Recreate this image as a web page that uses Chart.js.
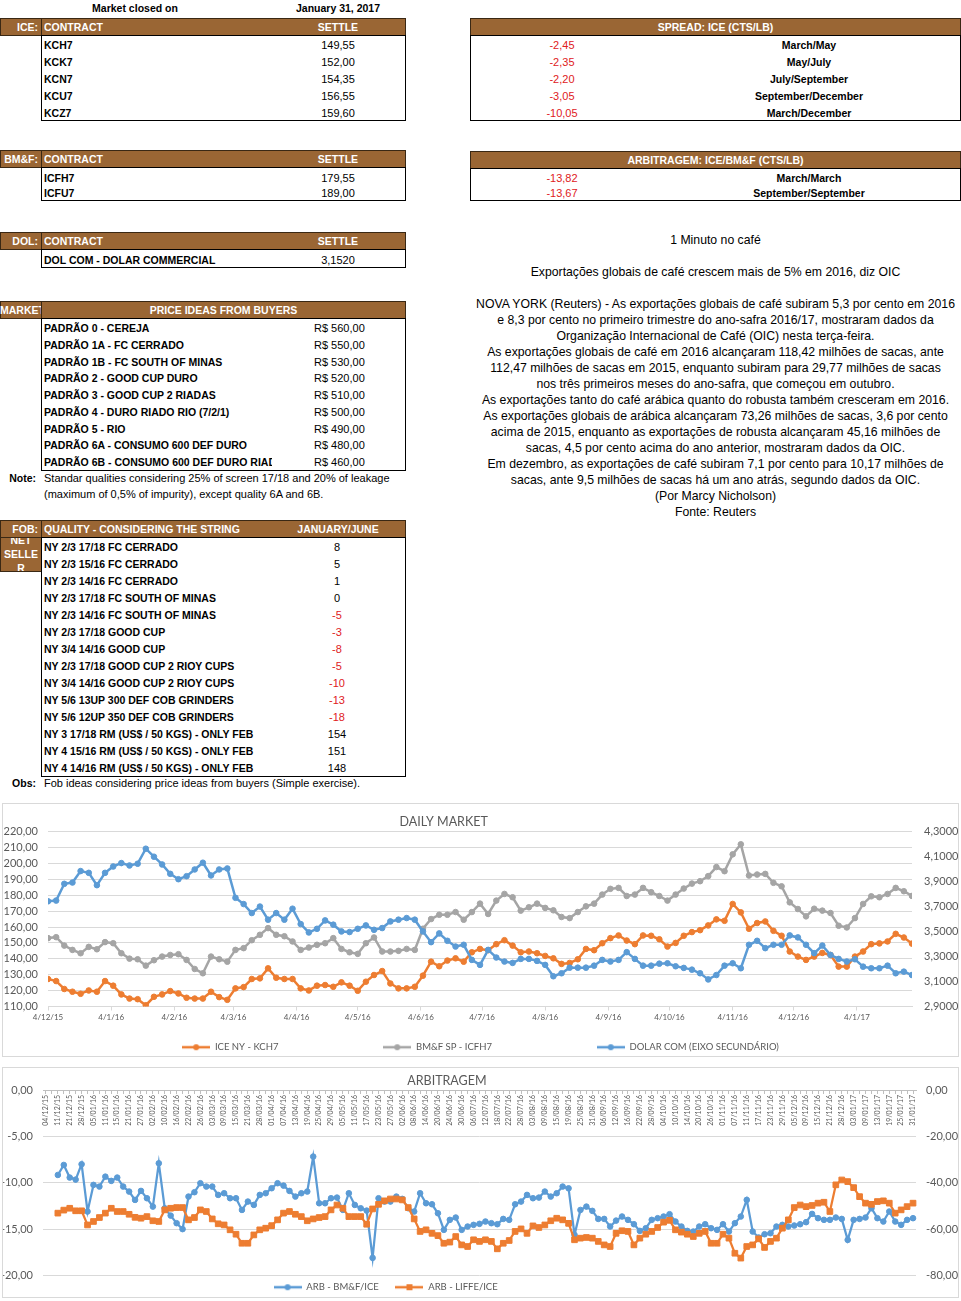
<!DOCTYPE html>
<html>
<head>
<meta charset="utf-8">
<script src="https://cdn.jsdelivr.net/npm/chart.js@4.4.0/dist/chart.umd.min.js"></script>
<style>
html, body { margin:0; padding:0; background:#fff; }
body { width:961px; height:1301px; overflow:hidden; position:relative; font-family:'Liberation Sans', Arial, sans-serif; }
#page { position:absolute; left:0; top:0; width:961px; height:1301px; }
.cell { position:absolute; height:16px; line-height:16px; font-size:11px; white-space:nowrap; overflow:hidden; color:#000; }
.b { font-weight:bold; font-size:10.5px; }
.c { text-align:center; }
.r { text-align:right; }
.w { color:#fff; }
.red { color:#e0201c; }
.news { font-size:12.25px; }
.hdr { position:absolute; background:#9a6634; border:1px solid #3a2814; box-sizing:border-box; overflow:hidden; }
.frame { position:absolute; border:1px solid #000; box-sizing:border-box; }
.sep { position:absolute; background:#3a2814; width:1px; }
.chartbox { position:absolute; border:1px solid #d9d9d9; box-sizing:border-box; }
canvas { position:absolute; }
</style>
</head>
<body>
<div id="page"></div>
<div class="chartbox" style="left:2px;top:803px;width:957px;height:254px"></div>
<canvas id="daily" width="955" height="258" style="left:3px;top:804px"></canvas>
<div class="chartbox" style="left:2px;top:1067px;width:957px;height:231px"></div>
<canvas id="arb" width="955" height="234" style="left:3px;top:1068px"></canvas>
<script>
// ---- table contents ----
var marketDate = 'January 31, 2017';
var iceContracts = ['KCH7', 'KCK7', 'KCN7', 'KCU7', 'KCZ7'];
var iceSettle = ['149,55', '152,00', '154,35', '156,55', '159,60'];
var spreadValues = ['-2,45', '-2,35', '-2,20', '-3,05', '-10,05'];
var spreadLabels = ['March/May', 'May/July', 'July/September', 'September/December', 'March/December'];
var bmfContracts = ['ICFH7', 'ICFU7'];
var bmfSettle = ['179,55', '189,00'];
var arbTableValues = ['-13,82', '-13,67'];
var arbTableLabels = ['March/March', 'September/September'];
var dolContracts = ['DOL COM - DOLAR COMMERCIAL'];
var dolSettle = ['3,1520'];
var priceQualities = ['PADRÃO 0 - CEREJA', 'PADRÃO 1A - FC CERRADO', 'PADRÃO 1B - FC SOUTH OF MINAS',
  'PADRÃO 2 - GOOD CUP DURO', 'PADRÃO 3 - GOOD CUP 2 RIADAS', 'PADRÃO 4 - DURO RIADO RIO (7/2/1)',
  'PADRÃO 5 - RIO', 'PADRÃO 6A - CONSUMO 600 DEF DURO', 'PADRÃO 6B - CONSUMO 600 DEF DURO RIADO'];
var priceValues = ['R$ 560,00', 'R$ 550,00', 'R$ 530,00', 'R$ 520,00', 'R$ 510,00', 'R$ 500,00',
  'R$ 490,00', 'R$ 480,00', 'R$ 460,00'];
var noteLines = ['Standar qualities considering 25% of screen 17/18 and 20% of leakage',
  '(maximum of 0,5% of impurity), except quality 6A and 6B.'];
var fobQualities = ['NY 2/3 17/18 FC CERRADO', 'NY 2/3 15/16 FC CERRADO', 'NY 2/3 14/16 FC CERRADO',
  'NY 2/3 17/18 FC SOUTH OF MINAS', 'NY 2/3 14/16 FC SOUTH OF MINAS', 'NY 2/3 17/18 GOOD CUP',
  'NY 3/4 14/16 GOOD CUP', 'NY 2/3 17/18 GOOD CUP 2 RIOY CUPS', 'NY 3/4 14/16 GOOD CUP 2 RIOY CUPS',
  'NY 5/6 13UP 300 DEF COB GRINDERS', 'NY 5/6 12UP 350 DEF COB GRINDERS',
  'NY 3 17/18 RM (US$ / 50 KGS) - ONLY FEB', 'NY 4 15/16 RM (US$ / 50 KGS) - ONLY FEB',
  'NY 4 14/16 RM (US$ / 50 KGS) - ONLY FEB'];
var fobValues = [8, 5, 1, 0, -5, -3, -8, -5, -10, -13, -18, 154, 151, 148];
var obsText = 'Fob ideas considering price ideas from buyers (Simple exercise).';
var newsTitle = '1 Minuto no café';
var newsHeadline = 'Exportações globais de café crescem mais de 5% em 2016, diz OIC';
var newsBody = [
  'NOVA YORK (Reuters) - As exportações globais de café subiram 5,3 por cento em 2016',
  'e 8,3 por cento no primeiro trimestre do ano-safra 2016/17, mostraram dados da',
  'Organização Internacional de Café (OIC) nesta terça-feira.',
  'As exportações globais de café em 2016 alcançaram 118,42 milhões de sacas, ante',
  '112,47 milhões de sacas em 2015, enquanto subiram para 29,77 milhões de sacas',
  'nos três primeiros meses do ano-safra, que começou em outubro.',
  'As exportações tanto do café arábica quanto do robusta também cresceram em 2016.',
  'As exportações globais de arábica alcançaram 73,26 milhões de sacas, 3,6 por cento',
  'acima de 2015, enquanto as exportações de robusta alcançaram 45,16 milhões de',
  'sacas, 4,5 por cento acima do ano anterior, mostraram dados da OIC.',
  'Em dezembro, as exportações de café subiram 7,1 por cento para 10,17 milhões de',
  'sacas, ante 9,5 milhões de sacas há um ano atrás, segundo dados da OIC.',
  '(Por Marcy Nicholson)',
  'Fonte: Reuters'];

// ---- DAILY MARKET: one value every 4 calendar days from 4/12/15 to 31/1/17 ----
var dailyStepDays = 4;
var dailyTickDays = [0, 31, 62, 91, 122, 152, 183, 213, 244, 275, 305, 336, 366, 397];
var dailyTickLabels = ['4/12/15', '4/1/16', '4/2/16', '4/3/16', '4/4/16', '4/5/16', '4/6/16',
  '4/7/16', '4/8/16', '4/9/16', '4/10/16', '4/11/16', '4/12/16', '4/1/17'];
var dolarTicks = [2.9, 3.1, 3.3, 3.5, 3.7, 3.9, 4.1, 4.3];
var iceNY = [
  127.3, 126.0, 121.0, 119.3, 118.0, 120.1, 119.3, 126.0, 123.1, 117.6,
  115.0, 114.6, 110.8, 116.1, 117.6, 119.7, 118.2, 115.5, 115.0, 115.0,
  119.3, 115.9, 114.2, 121.4, 122.2, 127.3, 127.7, 134.0, 128.1, 127.3,
  127.3, 121.4, 120.1, 123.1, 123.5, 122.4, 125.2, 123.1, 119.9, 125.6,
  129.8, 132.3, 124.5, 121.4, 121.4, 122.4, 129.4, 138.2, 135.3, 138.9,
  140.3, 138.2, 144.1, 146.2, 145.4, 149.2, 151.7, 148.3, 144.1, 144.6,
  143.5, 141.8, 140.3, 136.8, 137.4, 139.7, 146.2, 145.4, 149.8, 153.0,
  154.7, 151.5, 149.2, 154.7, 154.5, 152.3, 147.7, 150.0, 154.5, 156.8,
  158.0, 161.0, 164.8, 163.9, 174.5, 169.2, 158.9, 162.5, 163.5, 157.6,
  154.5, 144.6, 141.4, 139.3, 141.4, 143.7, 142.4, 135.1, 135.1, 141.4,
  144.6, 149.2, 149.7, 150.9, 155.7, 153.4, 149.55];
var bmfSP = [
  153.0, 153.6, 148.3, 145.6, 143.5, 147.5, 146.0, 150.5, 149.8, 143.5,
  140.1, 139.7, 135.7, 139.1, 141.4, 142.4, 142.9, 139.3, 133.6, 130.9,
  141.4, 139.7, 138.2, 145.6, 146.7, 151.7, 155.1, 159.3, 155.1, 154.2,
  150.9, 145.6, 147.1, 148.8, 149.8, 153.0, 146.2, 144.1, 143.1, 149.8,
  153.4, 144.6, 144.6, 145.0, 146.2, 145.6, 158.9, 165.0, 167.7, 167.7,
  169.4, 164.6, 169.4, 174.7, 168.2, 176.6, 180.8, 178.7, 170.3, 172.4,
  174.7, 172.0, 170.5, 166.3, 165.6, 169.4, 173.0, 174.7, 180.4, 184.0,
  184.6, 179.5, 180.4, 184.6, 181.9, 179.5, 176.6, 180.4, 184.2, 187.3,
  188.8, 192.0, 197.7, 195.1, 205.7, 212.0, 192.4, 193.0, 193.4, 187.8,
  185.6, 175.5, 171.3, 166.7, 171.5, 170.3, 168.8, 160.8, 159.7, 165.6,
  174.5, 179.3, 178.7, 180.8, 184.6, 182.5, 179.55];
var dolarCom = [
  3.742, 3.748, 3.882, 3.892, 3.984, 3.970, 3.871, 3.970, 4.021, 4.048,
  4.029, 4.043, 4.163, 4.099, 4.037, 3.962, 3.919, 3.943, 3.997, 4.051,
  3.949, 3.997, 4.005, 3.770, 3.720, 3.648, 3.700, 3.595, 3.648, 3.595,
  3.683, 3.560, 3.493, 3.522, 3.589, 3.555, 3.501, 3.496, 3.522, 3.549,
  3.514, 3.528, 3.581, 3.595, 3.608, 3.595, 3.501, 3.415, 3.485, 3.426,
  3.380, 3.394, 3.273, 3.233, 3.353, 3.292, 3.260, 3.249, 3.281, 3.281,
  3.265, 3.233, 3.142, 3.166, 3.211, 3.211, 3.211, 3.227, 3.273, 3.260,
  3.273, 3.335, 3.281, 3.227, 3.227, 3.243, 3.246, 3.222, 3.209, 3.195,
  3.166, 3.117, 3.152, 3.227, 3.246, 3.206, 3.394, 3.426, 3.367, 3.394,
  3.394, 3.469, 3.453, 3.394, 3.327, 3.388, 3.313, 3.281, 3.260, 3.278,
  3.219, 3.206, 3.206, 3.227, 3.166, 3.179, 3.152];

// ---- ARBITRAGEM: two points per labelled date, series start at 11/12/15 ----
var arbDateLabels = ['04/12/15', '11/12/15', '21/12/15', '28/12/15', '05/01/16', '11/01/16', '15/01/16',
  '21/01/16', '27/01/16', '02/02/16', '10/02/16', '16/02/16', '22/02/16', '26/02/16', '03/03/16',
  '09/03/16', '15/03/16', '21/03/16', '28/03/16', '01/04/16', '07/04/16', '13/04/16', '19/04/16',
  '25/04/16', '29/04/16', '05/05/16', '11/05/16', '17/05/16', '23/05/16', '27/05/16', '02/06/16',
  '08/06/16', '14/06/16', '20/06/16', '24/06/16', '30/06/16', '06/07/16', '12/07/16', '18/07/16',
  '22/07/16', '28/07/16', '03/08/16', '09/08/16', '15/08/16', '19/08/16', '25/08/16', '31/08/16',
  '06/09/16', '12/09/16', '16/09/16', '22/09/16', '28/09/16', '04/10/16', '10/10/16', '14/10/16',
  '20/10/16', '26/10/16', '01/11/16', '07/11/16', '11/11/16', '17/11/16', '23/11/16', '29/11/16',
  '05/12/16', '09/12/16', '15/12/16', '21/12/16', '28/12/16', '03/01/17', '09/01/17', '13/01/17',
  '19/01/17', '25/01/17', '31/01/17'];
var arbBmfIce = [
  -9.16, -8.08, -9.44, -9.66, -8.0, -13.1, -10.23, -10.41, -9.34, -9.8,
  -9.44, -10.41, -10.95, -11.85, -10.88, -11.67, -12.57, -7.9, -12.75, -13.54,
  -14.36, -15.0, -11.49, -11.02, -10.05, -10.41, -10.41, -11.31, -11.13, -11.67,
  -11.67, -12.93, -12.03, -12.39, -11.31, -11.13, -10.59, -10.05, -10.31, -10.88,
  -11.49, -11.13, -10.95, -7.18, -12.21, -12.21, -11.67, -11.6, -12.93, -11.13,
  -12.39, -12.75, -13.0, -18.1, -11.67, -12.03, -12.03, -11.49, -11.74, -12.75,
  -13.1, -11.13, -12.21, -12.32, -13.29, -15.08, -14.0, -13.75, -15.08, -14.72,
  -14.54, -14.43, -14.18, -14.36, -14.47, -13.9, -14.0, -12.32, -12.03, -11.31,
  -11.67, -11.6, -10.95, -11.49, -11.13, -10.41, -10.6, -15.62, -12.93, -12.57,
  -13.03, -13.9, -13.9, -14.72, -14.08, -13.64, -14.0, -14.47, -15.19, -14.9,
  -14.0, -13.82, -13.64, -13.39, -14.18, -14.72, -15.19, -15.26, -14.72, -14.47,
  -14.9, -15.08, -14.47, -15.26, -14.36, -13.64, -11.85, -15.26, -15.9, -15.55,
  -15.44, -14.72, -14.54, -14.72, -14.61, -14.47, -14.25, -13.36, -13.82, -14.0,
  -14.0, -13.75, -13.9, -16.16, -14.0, -13.9, -13.75, -12.75, -13.82, -14.18,
  -13.1, -14.18, -14.54, -14.0, -13.82];
var arbLiffeIce = [
  -53.1, -51.8, -51.0, -52.1, -52.1, -58.2, -56.7, -55.0, -53.1, -51.0,
  -52.4, -52.4, -53.6, -54.9, -55.3, -54.6, -56.4, -56.7, -51.7, -51.0,
  -50.7, -50.7, -56.0, -55.0, -51.7, -52.4, -55.6, -57.7, -58.2, -60.3,
  -62.2, -66.1, -66.1, -62.5, -60.3, -59.6, -58.5, -56.0, -53.1, -52.4,
  -53.6, -54.6, -56.4, -55.6, -55.0, -54.6, -51.7, -49.6, -51.0, -54.6,
  -54.6, -54.6, -57.9, -51.3, -49.3, -47.8, -47.0, -47.0, -47.4, -50.7,
  -55.6, -61.0, -60.3, -61.8, -62.8, -66.1, -65.6, -63.2, -66.8, -67.5,
  -64.6, -65.3, -64.6, -65.3, -68.5, -66.1, -64.9, -61.0, -59.9, -61.8,
  -58.6, -59.3, -58.2, -56.4, -55.3, -56.0, -57.5, -64.6, -63.9, -63.6,
  -63.9, -65.3, -66.8, -67.5, -61.8, -60.7, -61.0, -66.8, -63.9, -62.2,
  -61.0, -59.3, -57.0, -56.2, -60.3, -61.3, -62.2, -63.2, -61.8, -61.0,
  -66.1, -66.1, -62.2, -63.9, -70.4, -72.5, -67.5, -66.8, -64.2, -67.9,
  -65.3, -63.9, -59.6, -56.0, -50.7, -49.6, -50.3, -49.8, -48.8, -48.4,
  -52.4, -40.9, -38.8, -39.5, -42.1, -46.0, -48.8, -49.3, -48.1, -47.8,
  -48.8, -53.1, -51.7, -50.3, -48.8];

// ---- spreadsheet part ----
var page = document.getElementById('page');

function el(cls, x, y, w, h) {
  var d = document.createElement('div');
  d.className = cls;
  d.style.left = x + 'px';
  d.style.top = y + 'px';
  if (w != null) d.style.width = w + 'px';
  if (h != null) d.style.height = h + 'px';
  page.appendChild(d);
  return d;
}

function txt(x, cy, w, s, cls) {
  var d = el('cell ' + (cls || ''), x, cy - 8, w);
  d.textContent = s;
  return d;
}

function contractTable(tag, top, rowY, rowStep, bodyH, names, values) {
  el('hdr', 0, top, 406, 18);
  el('sep', 41, top, null, 18);
  txt(0, top + 9, 38, tag, 'b w r');
  txt(44, top + 9, 200, 'CONTRACT', 'b w');
  txt(288, top + 9, 100, 'SETTLE', 'b w c');
  el('frame', 41, top + 17, 365, bodyH);
  names.forEach(function (n, i) {
    txt(44, rowY + i * rowStep, 240, n, 'b');
    txt(288, rowY + i * rowStep, 100, values[i], 'c');
  });
}

function spreadTable(title, top, rowY, rowStep, bodyH, values, labels) {
  el('hdr', 470, top, 491, 18);
  txt(470, top + 9, 491, title, 'b w c');
  el('frame', 470, top + 17, 491, bodyH);
  values.forEach(function (v, i) {
    txt(512, rowY + i * rowStep, 100, v, 'c red');
    txt(689, rowY + i * rowStep, 240, labels[i], 'b c');
  });
}

txt(40, 8, 190, 'Market closed on', 'b c');
txt(268, 8, 140, marketDate, 'b c');

contractTable('ICE:', 18, 45, 17, 86, iceContracts, iceSettle);
contractTable('BM&F:', 150, 178, 15, 34, bmfContracts, bmfSettle);
contractTable('DOL:', 232, 260, 17, 19, dolContracts, dolSettle);

spreadTable('SPREAD: ICE (CTS/LB)', 18, 45, 17, 86, spreadValues, spreadLabels);
spreadTable('ARBITRAGEM: ICE/BM&F (CTS/LB)', 151, 178, 15, 33, arbTableValues, arbTableLabels);

// price ideas
el('hdr', 0, 301, 406, 18);
el('sep', 41, 301, null, 18);
txt(0, 310, 41, 'MARKET', 'b w');
txt(41, 310, 365, 'PRICE IDEAS FROM BUYERS', 'b w c');
el('frame', 41, 318, 365, 153);
priceQualities.forEach(function (q, i) {
  var cy = 328 + i * 16.75;
  txt(44, cy, 228, q, 'b');
  txt(314, cy, 90, priceValues[i]);
});
txt(0, 478, 36, 'Note:', 'b r');
noteLines.forEach(function (l, i) { txt(44, 478 + i * 16, 380, l); });

// fob
el('hdr', 0, 520, 406, 18);
el('sep', 41, 520, null, 18);
txt(0, 529, 38, 'FOB:', 'b w r');
txt(44, 529, 250, 'QUALITY - CONSIDERING THE STRING', 'b w');
txt(288, 529, 100, 'JANUARY/JUNE', 'b w c');
var netCell = el('hdr', 0, 537, 42, 35);
netCell.innerHTML = '<div class="b w c" style="position:absolute;left:0;top:-5px;width:40px;line-height:14px">NET<br>SELLE<br>R</div>';
el('frame', 41, 537, 365, 240);
fobQualities.forEach(function (q, i) {
  var cy = 547 + i * 17;
  txt(44, cy, 240, q, 'b');
  txt(287, cy, 100, String(fobValues[i]), fobValues[i] < 0 ? 'c red' : 'c');
});
txt(0, 783, 36, 'Obs:', 'b r');
txt(44, 783, 400, obsText);

// news
txt(470, 240, 491, newsTitle, 'news c');
txt(470, 272, 491, newsHeadline, 'news c');
newsBody.forEach(function (l, i) { txt(470, 304 + i * 16, 491, l, 'news c'); });

// ---- charts ----
var chartFont = 'Lato, "Open Sans", sans-serif';
Chart.defaults.font.family = chartFont;
Chart.defaults.color = '#595959';

var ORANGE = '#ed7d31', GREY = '#a5a5a5', BLUE = '#5b9bd5';

function comma(d) {
  return function (v) { return Number(v).toFixed(d).replace('.', ','); };
}

function legendIcon(color, shape) {
  var c = document.createElement('canvas');
  c.width = 28; c.height = 10;
  var g = c.getContext('2d');
  g.strokeStyle = color; g.lineWidth = 2.5;
  g.beginPath(); g.moveTo(0, 5); g.lineTo(28, 5); g.stroke();
  g.fillStyle = color;
  if (shape === 'rect') {
    g.fillRect(11, 2, 6, 6);
  } else {
    g.beginPath(); g.arc(14, 5, 3, 0, Math.PI * 2); g.fill();
  }
  return c;
}

// trailing spaces, used to place legend entries and titles like the Excel layout
function padText(text, px, size) {
  var g = document.createElement('canvas').getContext('2d');
  g.font = size + 'px ' + chartFont;
  var base = g.measureText(text).width, s = text;
  while (px > 0 && g.measureText(s + ' ').width - base <= px) s += ' ';
  return s;
}

var LEGEND_SIZE = 9.5;

function legendOpts(icons, gaps, pad) {
  return {
    position: 'bottom',
    labels: {
      usePointStyle: true,
      pointStyleWidth: 28,
      padding: pad,
      font: { size: LEGEND_SIZE },
      color: '#595959',
      sort: function (a, b) { return a.datasetIndex - b.datasetIndex; },
      generateLabels: function (chart) {
        var items = Chart.defaults.plugins.legend.labels.generateLabels(chart);
        items.forEach(function (it) {
          it.pointStyle = icons[it.datasetIndex];
          it.text = padText(it.text, gaps[it.datasetIndex], LEGEND_SIZE);
        });
        return items;
      }
    }
  };
}

function series(values) {
  return values.map(function (v, i) { return { x: i * dailyStepDays, y: v }; });
}

new Chart(document.getElementById('daily'), {
  type: 'line',
  data: {
    datasets: [
      { label: 'ICE NY - KCH7', data: series(iceNY), borderColor: ORANGE, backgroundColor: ORANGE, yAxisID: 'y', order: 3 },
      { label: 'BM&F SP - ICFH7', data: series(bmfSP), borderColor: GREY, backgroundColor: GREY, yAxisID: 'y', order: 2 },
      { label: 'DOLAR COM (EIXO SECUNDÁRIO)', data: series(dolarCom), borderColor: BLUE, backgroundColor: BLUE, yAxisID: 'y1', order: 1 }
    ]
  },
  options: {
    responsive: false,
    animation: false,
    events: [],
    elements: {
      line: { borderWidth: 2.5, tension: 0 },
      point: { radius: 2.8, borderWidth: 1 }
    },
    layout: { padding: 0 },
    plugins: {
      title: { display: true, text: padText('DAILY MARKET', 74, 12.5), color: '#595959',
        font: { size: 12.5, weight: 'normal' }, padding: { top: 10, bottom: 2.6 } },
      legend: legendOpts([legendIcon(ORANGE), legendIcon(GREY), legendIcon(BLUE)], [97, 97, 0], 10),
      tooltip: { enabled: false }
    },
    scales: {
      x: {
        type: 'linear', min: 0, max: 424,
        afterBuildTicks: function (s) { s.ticks = dailyTickDays.map(function (v) { return { value: v }; }); },
        afterFit: function (s) { s.height = 26; },
        ticks: { autoSkip: false, maxRotation: 0, padding: 2, font: { size: 8 },
          callback: function (v, i) { return dailyTickLabels[i]; } },
        grid: { drawOnChartArea: false, tickLength: 4, color: '#d9d9d9' },
        border: { color: '#d9d9d9' }
      },
      y: {
        position: 'left', min: 110, max: 220,
        afterFit: function (s) { s.width = 45; },
        ticks: { stepSize: 10, autoSkip: false, padding: 10, font: { size: 11 }, callback: comma(2) },
        grid: { color: '#d9d9d9', drawTicks: false },
        border: { display: false }
      },
      y1: {
        position: 'right', min: 2.9, max: 4.3,
        afterBuildTicks: function (s) { s.ticks = dolarTicks.map(function (v) { return { value: v }; }); },
        afterFit: function (s) { s.width = 46; },
        ticks: { autoSkip: false, padding: 12, font: { size: 11 }, callback: comma(4) },
        grid: { drawOnChartArea: false, drawTicks: false },
        border: { display: false }
      }
    }
  }
});

var arbCategories = [];
arbDateLabels.forEach(function (d, i) {
  if (i) arbCategories.push('');
  arbCategories.push(d);
});

new Chart(document.getElementById('arb'), {
  type: 'line',
  data: {
    labels: arbCategories,
    datasets: [
      { label: 'ARB - BM&F/ICE', data: [null, null].concat(arbBmfIce), borderColor: BLUE, backgroundColor: BLUE,
        yAxisID: 'y', pointStyle: 'circle', pointRadius: 2.8, order: 2 },
      { label: 'ARB - LIFFE/ICE', data: [null, null].concat(arbLiffeIce), borderColor: ORANGE, backgroundColor: ORANGE,
        yAxisID: 'y1', pointStyle: 'rect', pointRadius: 4, order: 1 }
    ]
  },
  options: {
    responsive: false,
    animation: false,
    events: [],
    elements: {
      line: { borderWidth: 2.25, tension: 0 },
      point: { borderWidth: 1 }
    },
    layout: { padding: 0 },
    plugins: {
      title: { display: true, text: padText('ARBITRAGEM', 68, 12.5), color: '#595959',
        font: { size: 12.5, weight: 'normal' }, padding: { top: 5, bottom: 2 } },
      legend: legendOpts([legendIcon(BLUE), legendIcon(ORANGE, 'rect')], [11, 190], 7),
      tooltip: { enabled: false }
    },
    scales: {
      x: {
        type: 'category',
        position: { y: 0 },
        offset: true,
        ticks: { autoSkip: false, minRotation: 90, maxRotation: 90, padding: 2, font: { size: 7 } },
        grid: { drawOnChartArea: false, tickLength: 3, color: '#bfbfbf' },
        border: { color: '#bfbfbf' }
      },
      y: {
        position: 'left', min: -20, max: 0,
        afterFit: function (s) { s.width = 40; },
        ticks: { stepSize: 5, autoSkip: false, padding: 10, font: { size: 11 }, callback: comma(2) },
        grid: { color: '#d9d9d9', drawTicks: false },
        border: { display: false }
      },
      y1: {
        position: 'right', min: -80, max: 0,
        afterFit: function (s) { s.width = 42; },
        ticks: { stepSize: 20, autoSkip: false, padding: 10, font: { size: 11 }, callback: comma(2) },
        grid: { drawOnChartArea: false, drawTicks: false },
        border: { display: false }
      }
    }
  }
});
</script>
</body>
</html>
